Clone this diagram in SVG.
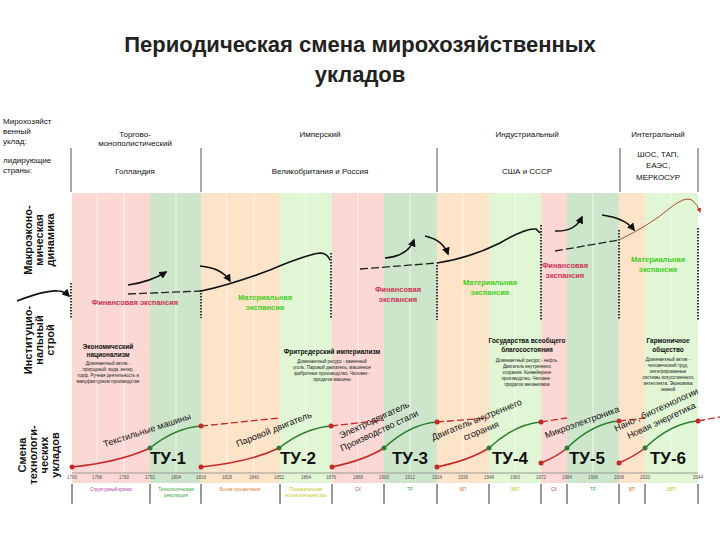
<svg xmlns="http://www.w3.org/2000/svg" width="720" height="540" viewBox="0 0 720 540">
<defs>
<marker id="ah" viewBox="0 0 10 10" refX="8" refY="5" markerWidth="5" markerHeight="5" orient="auto"><path d="M0,0L10,5L0,10z" fill="#111"/></marker>
<marker id="ahr" viewBox="0 0 10 10" refX="8" refY="5" markerWidth="5" markerHeight="5" orient="auto"><path d="M0,0L10,5L0,10z" fill="#c33"/></marker>
<style>
text{font-family:"Liberation Sans","DejaVu Sans",sans-serif}
.t{font-size:22px;font-weight:bold;fill:#222;text-anchor:middle}
.h{font-size:8px;fill:#111;text-anchor:middle}
.hl{font-size:8px;fill:#111}
.side{font-size:11px;font-weight:bold;fill:#111;text-anchor:middle}
.fin{font-size:7.5px;font-weight:bold;fill:#cc3355;text-anchor:middle}
.mat{font-size:7.5px;font-weight:bold;fill:#44cc22;text-anchor:middle}
.it{font-size:6.5px;font-weight:bold;fill:#111;text-anchor:middle}
.is{font-size:4.5px;fill:#222;text-anchor:middle}
.tu{font-size:17px;font-weight:bold;fill:#111;text-anchor:middle}
.cl{font-size:9px;fill:#111;text-anchor:middle}
.yr{font-size:4.5px;fill:#555;text-anchor:middle}
.bl{font-size:4.5px;text-anchor:middle}
.sep{stroke:#555;stroke-width:1}
.dot{stroke:#333;stroke-width:2;stroke-dasharray:1.5 1.5}
.blk{fill:none;stroke:#111;stroke-width:1.6}
.dsh{fill:none;stroke:#222;stroke-width:1.3;stroke-dasharray:8 3}
.red{fill:none;stroke:#c62828;stroke-width:1.5}
.grn{fill:none;stroke:#2e7d32;stroke-width:1.5}
.rdsh{fill:none;stroke:#c62828;stroke-width:1.3;stroke-dasharray:7 3}
.wl{stroke:#fff;stroke-width:0.8;opacity:0.8}
</style>
</defs>
<rect width="720" height="540" fill="#fff"/>
<text class="t" x="360" y="52">Периодическая смена мирохозяйственных</text>
<text class="t" x="360" y="82">укладов</text>
<g id="header">
<text class="hl" x="3" y="124">Мирохозяйст</text>
<text class="hl" x="3" y="134">венный</text>
<text class="hl" x="3" y="144">уклад:</text>
<text class="hl" x="3" y="163">лидирующие</text>
<text class="hl" x="3" y="173">страны:</text>
<line class="sep" x1="71" y1="148" x2="71" y2="192"/>
<line class="sep" x1="201" y1="148" x2="201" y2="192"/>
<line class="sep" x1="437" y1="148" x2="437" y2="192"/>
<line class="sep" x1="620" y1="148" x2="620" y2="192"/>
<line class="sep" x1="698" y1="148" x2="698" y2="192"/>
<text class="h" x="135" y="137">Торгово-</text>
<text class="h" x="135" y="146">монополистический</text>
<text class="h" x="135" y="174">Голландия</text>
<text class="h" x="320" y="137">Имперский</text>
<text class="h" x="320" y="174">Великобритания и Россия</text>
<text class="h" x="527" y="137">Индустриальный</text>
<text class="h" x="527" y="174">США и СССР</text>
<text class="h" x="658" y="137">Интегральный</text>
<text class="h" x="658" y="157">ШОС, ТАП,</text>
<text class="h" x="658" y="168">ЕАЭС,</text>
<text class="h" x="658" y="180">МЕРКОСУР</text>
</g>
<g id="bands">
<rect x="72" y="193" width="78" height="290" fill="#fbd8d4"/>
<rect x="150" y="193" width="51" height="290" fill="#cde6cb"/>
<rect x="201" y="193" width="79" height="290" fill="#fde4c8"/>
<rect x="280" y="193" width="52" height="290" fill="#e0f6d4"/>
<rect x="332" y="193" width="52" height="290" fill="#fbd8d4"/>
<rect x="384" y="193" width="53" height="290" fill="#cde6cb"/>
<rect x="437" y="193" width="52" height="290" fill="#fde4c8"/>
<rect x="489" y="193" width="52" height="290" fill="#e0f6d4"/>
<rect x="541" y="193" width="26" height="290" fill="#fbd8d4"/>
<rect x="567" y="193" width="52" height="290" fill="#cde6cb"/>
<rect x="619" y="193" width="26" height="290" fill="#fde4c8"/>
<rect x="645" y="193" width="53" height="290" fill="#e0f6d4"/>
<g>
<line class="wl" x1="97" y1="193" x2="97" y2="473"/><line class="wl" x1="124" y1="193" x2="124" y2="473"/><line class="wl" x1="176" y1="193" x2="176" y2="473"/><line class="wl" x1="227" y1="193" x2="227" y2="473"/><line class="wl" x1="254" y1="193" x2="254" y2="473"/><line class="wl" x1="306" y1="193" x2="306" y2="473"/><line class="wl" x1="358" y1="193" x2="358" y2="473"/><line class="wl" x1="410" y1="193" x2="410" y2="473"/><line class="wl" x1="463" y1="193" x2="463" y2="473"/><line class="wl" x1="515" y1="193" x2="515" y2="473"/><line class="wl" x1="593" y1="193" x2="593" y2="473"/><line class="wl" x1="671" y1="193" x2="671" y2="473"/>
</g>
</g>
<g id="side">
<text class="side" transform="translate(40,240) rotate(-90)"><tspan x="0" y="-8">Макроэконо-</tspan><tspan x="0" y="3">мическая</tspan><tspan x="0" y="14">динамика</tspan></text>
<text class="side" transform="translate(40,340) rotate(-90)"><tspan x="0" y="-8">Институцио-</tspan><tspan x="0" y="3">нальный</tspan><tspan x="0" y="14">строй</tspan></text>
<text class="side" transform="translate(40,455) rotate(-90)"><tspan x="0" y="-14">Смена</tspan><tspan x="0" y="-3">технологи-</tspan><tspan x="0" y="8">ческих</tspan><tspan x="0" y="19">укладов</tspan></text>
</g>
<g id="connectors">
<line class="dot" x1="71" y1="283" x2="71" y2="318"/>
<line class="dot" x1="201" y1="290" x2="201" y2="318"/>
<line class="dot" x1="331" y1="253" x2="331" y2="318"/>
<line class="dot" x1="437" y1="265" x2="437" y2="320"/>
<line class="dot" x1="541" y1="225" x2="541" y2="320"/>
<line class="dot" x1="619" y1="230" x2="619" y2="320"/>
<line class="dot" x1="698" y1="228" x2="698" y2="320"/>
<path class="blk" d="M17,301 Q45,290 58,291 Q64,291 69,296" marker-end="url(#ah)"/>
<path class="dsh" d="M128,294 L201,291"/>
<path class="blk" d="M201,291 Q230,285 270,270 Q305,255 320,253 Q327,253 330,260"/>
<path class="blk" d="M128,285 Q150,282 166,272" marker-end="url(#ah)"/>
<path class="blk" d="M200,266 Q222,268 230,281" marker-end="url(#ah)"/>
<path class="dsh" d="M360,269 L437,263"/>
<path class="blk" d="M437,263 Q470,258 500,243 Q525,228 536,229 L540,233"/>
<path class="blk" d="M385,258 Q408,256 414,240" marker-end="url(#ah)"/>
<path class="blk" d="M425,236 Q443,240 448,254" marker-end="url(#ah)"/>
<path class="dsh" d="M555,251 L619,240"/>
<path fill="none" stroke="#a0522d" stroke-width="1" d="M619,240 Q650,225 670,208 Q685,196 692,200 Q698,205 700,212" marker-end="url(#ahr)"/>
<path class="blk" d="M555,231 Q575,232 582,217" marker-end="url(#ah)"/>
<path class="blk" d="M602,215 Q625,218 634,230" marker-end="url(#ah)"/>
<path class="red" d="M72,467 Q120,462 150,448"/><path class="grn" d="M150,448 Q175,428 201,426"/><path class="rdsh" d="M201,426 L280,418"/>
<path class="red" d="M201,467 Q250,462 279,448"/><path class="grn" d="M279,448 Q305,428 331,426"/><path class="rdsh" d="M331,426 L384,420"/>
<path class="red" d="M332,467 Q365,460 384,448"/><path class="grn" d="M384,448 Q410,424 437,422"/><path class="rdsh" d="M437,422 L489,418"/>
<path class="red" d="M437,467 Q470,460 489,448"/><path class="grn" d="M489,448 Q515,424 541,422"/><path class="rdsh" d="M541,422 L567,418"/>
<path class="red" d="M541,463 Q558,456 567,448"/><path class="grn" d="M567,448 Q593,423 619,421"/><path class="rdsh" d="M619,421 L645,418"/>
<path class="red" d="M619,463 Q635,456 645,448"/><path class="grn" d="M645,448 Q671,423 698,421"/><path class="rdsh" d="M698,421 L720,417"/>
<g fill="#c62828"><circle cx="72" cy="467" r="2.5"/><circle cx="201" cy="426" r="2.5"/><circle cx="201" cy="467" r="2.5"/><circle cx="331" cy="426" r="2.5"/><circle cx="332" cy="467" r="2.5"/><circle cx="437" cy="422" r="2.5"/><circle cx="437" cy="467" r="2.5"/><circle cx="541" cy="422" r="2.5"/><circle cx="541" cy="463" r="2.5"/><circle cx="619" cy="421" r="2.5"/><circle cx="619" cy="463" r="2.5"/><circle cx="698" cy="421" r="2.5"/></g>
<g fill="#2e7d32"><circle cx="150" cy="448" r="2.5"/><circle cx="279" cy="448" r="2.5"/><circle cx="384" cy="448" r="2.5"/><circle cx="489" cy="448" r="2.5"/><circle cx="567" cy="448" r="2.5"/><circle cx="645" cy="448" r="2.5"/></g>
</g>
<g id="expansion">
<text class="fin" x="135" y="305">Финансовая экспансия</text>
<text class="mat" x="265" y="300">Материальная</text><text class="mat" x="265" y="310">экспансия</text>
<text class="fin" x="398" y="292">Финансовая</text><text class="fin" x="398" y="302">экспансия</text>
<text class="mat" x="490" y="285">Материальная</text><text class="mat" x="490" y="295">экспансия</text>
<text class="fin" x="565" y="268">Финансовая</text><text class="fin" x="565" y="278">экспансия</text>
<text class="mat" x="658" y="262">Материальная</text><text class="mat" x="658" y="272">экспансия</text>
</g>
<g id="institutions">
<text class="it" x="108" y="349">Экономический</text><text class="it" x="108" y="357">национализм</text>
<text class="is" x="108" y="365">Доминантный актив -</text><text class="is" x="108" y="371">природный: вода, ветер,</text><text class="is" x="108" y="377">торф. Ручная деятельность в</text><text class="is" x="108" y="383">мануфактурном производстве</text>
<text class="it" x="332" y="354">Фритредерский империализм</text>
<text class="is" x="332" y="363">Доминантный ресурс - каменный</text><text class="is" x="332" y="369">уголь. Паровой двигатель, машинное</text><text class="is" x="332" y="375">фабричное производство. Человек -</text><text class="is" x="332" y="381">придаток машины</text>
<text class="it" x="527" y="343">Государства всеобщего</text><text class="it" x="527" y="352">благосостояния</text>
<text class="is" x="527" y="362">Доминантный ресурс - нефть.</text><text class="is" x="527" y="368">Двигатель внутреннего</text><text class="is" x="527" y="374">сгорания. Конвейерное</text><text class="is" x="527" y="380">производство. Человек -</text><text class="is" x="527" y="386">придаток механизмов</text>
<text class="it" x="668" y="343">Гармоничное</text><text class="it" x="668" y="352">общество</text>
<text class="is" x="668" y="361">Доминантный актив -</text><text class="is" x="668" y="367">человеческий труд,</text><text class="is" x="668" y="373">интегрированные</text><text class="is" x="668" y="379">системы искусственного</text><text class="is" x="668" y="385">интеллекта. Экономика</text><text class="is" x="668" y="391">знаний</text>
</g>
<g id="tech">
<text class="tu" x="168" y="464">ТУ-1</text><text class="tu" x="298" y="464">ТУ-2</text><text class="tu" x="410" y="464">ТУ-3</text><text class="tu" x="510" y="464">ТУ-4</text><text class="tu" x="587" y="464">ТУ-5</text><text class="tu" x="668" y="464">ТУ-6</text>
<text class="cl" transform="translate(148,433) rotate(-18)">Текстильные машины</text>
<text class="cl" transform="translate(275,432) rotate(-22)">Паровой двигатель</text>
<text class="cl" transform="translate(378,428) rotate(-25)"><tspan x="0" y="-6">Электродвигатель</tspan><tspan x="0" y="6">Производство стали</tspan></text>
<text class="cl" transform="translate(480,428) rotate(-22)"><tspan x="0" y="-6">Двигатель внутреннего</tspan><tspan x="0" y="6">сгорания</tspan></text>
<text class="cl" transform="translate(583,425) rotate(-20)">Микроэлектроника</text>
<text class="cl" transform="translate(660,418) rotate(-25)"><tspan x="0" y="-6">Нано-, биотехнологии</tspan><tspan x="0" y="6">Новая энергетика</tspan></text>
</g>
<g id="axis">
<line x1="72" y1="473" x2="698" y2="473" stroke="#999" stroke-width="1"/>
<g class="yr"><text x="72" y="479">1760</text><text x="97" y="479">1768</text><text x="124" y="479">1780</text><text x="150" y="479">1792</text><text x="176" y="479">1804</text><text x="201" y="479">1816</text><text x="227" y="479">1828</text><text x="254" y="479">1840</text><text x="279" y="479">1852</text><text x="306" y="479">1864</text><text x="331" y="479">1876</text><text x="358" y="479">1888</text><text x="384" y="479">1900</text><text x="410" y="479">1912</text><text x="437" y="479">1924</text><text x="463" y="479">1936</text><text x="489" y="479">1948</text><text x="515" y="479">1960</text><text x="541" y="479">1972</text><text x="567" y="479">1984</text><text x="593" y="479">1996</text><text x="619" y="479">2008</text><text x="645" y="479">2020</text><text x="698" y="479">2044</text></g>
<g stroke="#333" stroke-width="1"><line x1="72" y1="484" x2="72" y2="504"/><line x1="150" y1="484" x2="150" y2="504"/><line x1="201" y1="484" x2="201" y2="504"/><line x1="280" y1="484" x2="280" y2="504"/><line x1="332" y1="484" x2="332" y2="504"/><line x1="384" y1="484" x2="384" y2="504"/><line x1="437" y1="484" x2="437" y2="504"/><line x1="489" y1="484" x2="489" y2="504"/><line x1="541" y1="484" x2="541" y2="504"/><line x1="567" y1="484" x2="567" y2="504"/><line x1="619" y1="484" x2="619" y2="504"/><line x1="645" y1="484" x2="645" y2="504"/><line x1="698" y1="484" x2="698" y2="504"/></g>
<text class="bl" x="111" y="491" fill="#b040a0">Структурный кризис</text>
<text class="bl" x="176" y="491" fill="#33aa33">Технологическая</text><text class="bl" x="176" y="497" fill="#33aa33">революция</text>
<text class="bl" x="240" y="491" fill="#e08030">Волна процветания</text>
<text class="bl" x="306" y="491" fill="#c8c820">Понижательная</text><text class="bl" x="306" y="497" fill="#c8c820">волна конъюнктуры</text>
<text class="bl" x="358" y="491" fill="#b040a0">СК</text><text class="bl" x="410" y="491" fill="#33aa33">ТР</text><text class="bl" x="463" y="491" fill="#e08030">ВП</text><text class="bl" x="515" y="491" fill="#c8c820">ЗВП</text>
<text class="bl" x="554" y="491" fill="#b040a0">СК</text><text class="bl" x="593" y="491" fill="#33aa33">ТР</text><text class="bl" x="632" y="491" fill="#e08030">ВП</text><text class="bl" x="671" y="491" fill="#c8c820">ЗВП</text>
</g>
</svg>
